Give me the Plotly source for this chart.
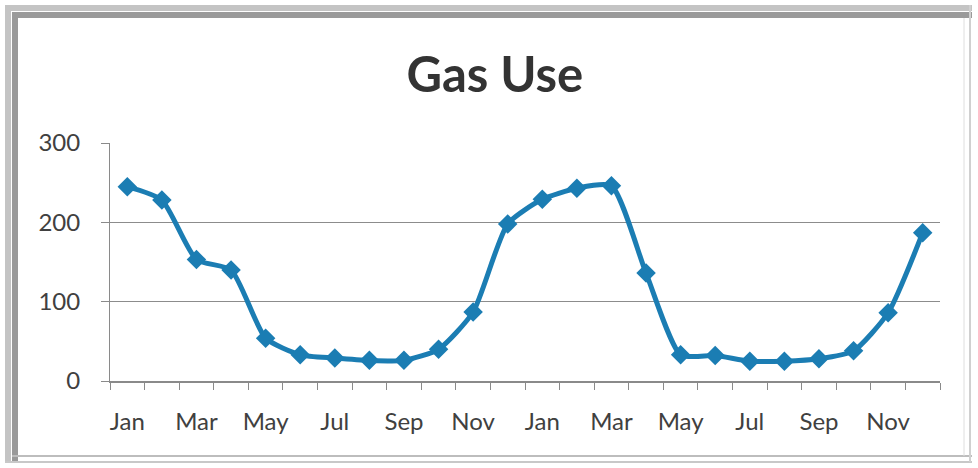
import plotly.graph_objects as go

# Monthly gas use over two years
months = ["Jan", "Feb", "Mar", "Apr", "May", "Jun",
          "Jul", "Aug", "Sep", "Oct", "Nov", "Dec"] * 2
gas_use = [245, 228, 153, 140, 54, 33, 29, 26, 26, 40, 87, 198,
           229, 243, 246, 136, 33, 32, 25, 25, 28, 38, 86, 187]
y_ticks = [0, 100, 200, 300]

x_idx = list(range(len(months)))
label_idx = x_idx[::2]
label_text = [months[i] for i in label_idx]

W, H = 978, 468
ML, MR, MT, MB = 110, 38, 143, 87
PW, PH = W - ML - MR, H - MT - MB


def px(x):
    """Pixel column -> paper x."""
    return (x - ML) / PW


def py(y):
    """Pixel row -> paper y."""
    return (H - MB - y) / PH


line_color = "#1b7db3"
text_color = "#404040"
axis_color = "#8a8a8a"
font_family = "Lato, 'Open Sans', sans-serif"

fig = go.Figure()
fig.add_trace(go.Scatter(
    x=x_idx,
    y=gas_use,
    mode="lines+markers",
    line=dict(color=line_color, width=5, shape="spline", smoothing=0.6),
    marker=dict(symbol="diamond", size=15, color=line_color),
    hovertext=months,
    showlegend=False,
))


def frame_line(x0, y0, x1, y1, color, width):
    return dict(type="line", xref="paper", yref="paper",
                x0=px(x0), y0=py(y0), x1=px(x1), y1=py(y1),
                line=dict(color=color, width=width), layer="above")


shapes = [
    # top edge: light outer band, darker inner band
    frame_line(5, 8, 972, 8, "#c4c4c4", 6),
    frame_line(12, 15, 972, 15, "#9a9a9a", 6),
    # left edge
    frame_line(8, 5, 8, 462, "#c4c4c4", 6),
    frame_line(15, 12, 15, 462, "#9a9a9a", 6),
    # bottom and right thin edges
    frame_line(12, 456, 972, 456, "#bdbdbd", 2),
    frame_line(5, 462, 972, 462, "#c8c8c8", 2),
    frame_line(964, 18, 964, 456, "#dedede", 1),
    frame_line(970, 5, 970, 462, "#d0d0d0", 2),
]

fig.update_layout(
    width=W,
    height=H,
    margin=dict(l=ML, r=MR, t=MT, b=MB),
    paper_bgcolor="white",
    plot_bgcolor="white",
    title=dict(
        text="<b>Gas Use</b>",
        x=0.506, xanchor="center",
        y=1 - 75 / H, yanchor="middle",
        font=dict(family=font_family, size=49, color="#333333"),
    ),
    xaxis=dict(
        range=[-0.5, len(months) - 0.5],
        tickmode="array",
        tickvals=label_idx,
        ticktext=label_text,
        ticks="",
        showgrid=False,
        showline=True,
        linecolor=axis_color,
        linewidth=2,
        zeroline=False,
        tickfont=dict(family=font_family, size=24, color=text_color),
        ticklabelstandoff=18,
        minor=dict(
            tickmode="linear", tick0=-0.5, dtick=1,
            ticks="outside", ticklen=7, tickcolor=axis_color, tickwidth=1,
            showgrid=False,
        ),
        fixedrange=True,
    ),
    yaxis=dict(
        range=[0, 300],
        tickmode="array",
        tickvals=y_ticks,
        ticks="outside",
        ticklen=8,
        tickcolor=axis_color,
        showgrid=True,
        gridcolor="#8c8c8c",
        gridwidth=1,
        showline=True,
        linecolor=axis_color,
        linewidth=1,
        zeroline=False,
        tickfont=dict(family=font_family, size=24, color=text_color),
        ticklabelstandoff=16,
        fixedrange=True,
    ),
    shapes=shapes,
)

fig.write_html("out.html")
